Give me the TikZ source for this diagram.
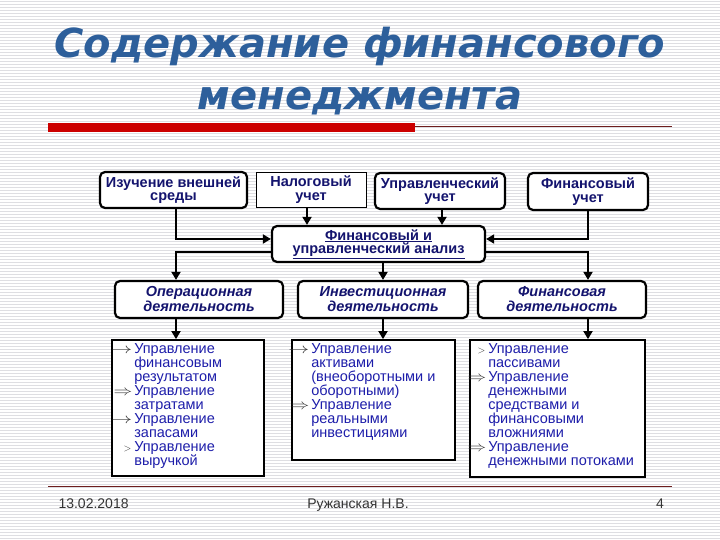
\documentclass[tikz,border=0pt]{standalone}
\usepackage{fontspec}
\setmainfont{Liberation Sans}
\newfontfamily\titlefont{DejaVu Sans}
\usepackage{tikz}
\usetikzlibrary{arrows.meta, positioning, calc}
\definecolor{titleblue}{RGB}{45, 95, 155}
\definecolor{navytext}{RGB}{20, 20, 110}
\definecolor{listblue}{RGB}{30, 30, 170}
\definecolor{barred}{RGB}{204, 0, 0}
\definecolor{linered}{RGB}{110, 30, 30}
\definecolor{stripegray}{RGB}{222, 222, 226}
\newcommand{\itemarrow}{\llap{\textcolor{black!80}{\scalebox{1.45}[1]{$\rightarrow$}}\hspace{2pt}}}
\newcommand{\itemdarrow}{\llap{\textcolor{black!80}{\scalebox{1.3}[1]{$\Rightarrow$}}\hspace{2pt}}}
\newcommand{\itemgt}{\llap{\textcolor{black!80}{$\scriptstyle>$}\hspace{3pt}}}

\begin{document}
\begin{tikzpicture}[
    x=1pt, y=-1pt,
    >={Triangle[length=8pt, width=9pt]},
    topbox/.style={draw, rounded corners=5pt, line width=2.2pt, align=center,
                   text=navytext, fill=white, inner sep=1pt,
                   font=\bfseries\fontsize{14.5}{13.5}\selectfont},
    plainbox/.style={topbox, rounded corners=0pt, line width=0.8pt},
    actbox/.style={topbox, font=\bfseries\itshape\fontsize{14.5}{15}\selectfont},
    listbox/.style={draw, line width=1.8pt, fill=white},
    listtxt/.style={anchor=north west, align=left, inner sep=0pt, text=listblue,
                    font=\fontsize{14.5}{14}\selectfont},
    arr/.style={->, line width=1.8pt},
    stripe/.style={stripegray, line width=1pt},
    foot/.style={anchor=base, font=\fontsize{14}{14}\selectfont, text=black!80},
]
\useasboundingbox (0,0) rectangle (720,540);
\fill[white] (0,0) rectangle (720,540);
\foreach \y in {1.5,4.5,...,540} \draw[stripe] (0,\y) -- (720,\y);

% --- Title ---
\node[font=\titlefont\bfseries\itshape\fontsize{40}{52}\selectfont, text=titleblue,
      align=center] (title) at (360,71) {Содержание финансового\\менеджмента};
\fill[barred] (48,123) rectangle (415,132);
\draw[linered, line width=0.8pt] (415,126) -- (672,126);

% --- Accounting sources ---
\node[topbox, minimum width=147, minimum height=36] (env) at (173.5,190) {Изучение внешней\\среды};
\node[plainbox, minimum width=110, minimum height=35] (tax) at (311,189.5) {Налоговый\\учет};
\node[topbox, minimum width=130, minimum height=36] (mgmt) at (440,191) {Управленческий\\учет};
\node[topbox, minimum width=120, minimum height=37] (fin) at (588,191.5) {Финансовый\\учет};

% --- Analysis ---
\node[topbox, minimum width=213, minimum height=36] (anal) at (378.5,244)
      {\underline{Финансовый и}\\\underline{управленческий анализ}};

% --- Activities ---
\node[actbox, minimum width=168, minimum height=37] (oper) at (199,299.5) {Операционная\\деятельность};
\node[actbox, minimum width=170, minimum height=37] (inv) at (383,299.5) {Инвестиционная\\деятельность};
\node[actbox, minimum width=168, minimum height=37] (fina) at (562,299.5) {Финансовая\\деятельность};

% --- Task lists ---
\node[listbox, minimum width=152, minimum height=136] (oplist) at (188,408) {};
\node[listbox, minimum width=163, minimum height=120] (invlist) at (373.5,400) {};
\node[listbox, minimum width=175, minimum height=137] (finlist) at (557.5,408.5) {};

\node[listtxt] (optxt) at ([xshift=23pt, yshift=-4pt]oplist.north west)
    {\itemarrow Управление\\финансовым\\результатом\\
     \itemdarrow Управление\\затратами\\
     \itemarrow Управление\\запасами\\
     \itemgt Управление\\выручкой};
\node[listtxt] (invtxt) at ([xshift=20pt, yshift=-4pt]invlist.north west)
    {\itemarrow Управление\\активами\\(внеоборотными и\\оборотными)\\
     \itemdarrow Управление\\реальными\\инвестициями};
\node[listtxt] (fintxt) at ([xshift=19pt, yshift=-4pt]finlist.north west)
    {\itemgt Управление\\пассивами\\
     \itemdarrow Управление\\денежными\\средствами и\\финансовыми\\вложниями\\
     \itemdarrow Управление\\денежными потоками};

% --- Column positions ---
\coordinate (lcol) at (176,0);
\coordinate (mcol) at (383,0);
\coordinate (rcol) at (588,0);
\coordinate (taxcol) at (307,0);
\coordinate (mgmtcol) at (442,0);

% ---- Arrows ----
\draw[arr] (env.south -| lcol) |- ([yshift=5pt]anal.west);
\draw[arr] (tax.south -| taxcol) -- (anal.north -| taxcol);
\draw[arr] (mgmt.south -| mgmtcol) -- (anal.north -| mgmtcol);
\draw[arr] (fin.south -| rcol) |- ([yshift=5pt]anal.east);
\draw[arr] ([yshift=-8pt]anal.west) -| (oper.north -| lcol);
\draw[arr] (anal.south -| mcol) -- (inv.north -| mcol);
\draw[arr] ([yshift=-8pt]anal.east) -| (fina.north -| rcol);
\draw[arr] (oper.south -| lcol) -- (oplist.north -| lcol);
\draw[arr] (inv.south -| mcol) -- (invlist.north -| mcol);
\draw[arr] (fina.south -| rcol) -- (finlist.north -| rcol);

% --- Footer ---
\draw[linered, line width=0.8pt] (48,486) -- (672,486);
\node[foot, anchor=base west] (date) at (55,508) {13.02.2018};
\node[foot] (author) at (358,508) {Ружанская Н.В.};
\node[foot] (page) at (660,508) {4};
\end{tikzpicture}
\end{document}
